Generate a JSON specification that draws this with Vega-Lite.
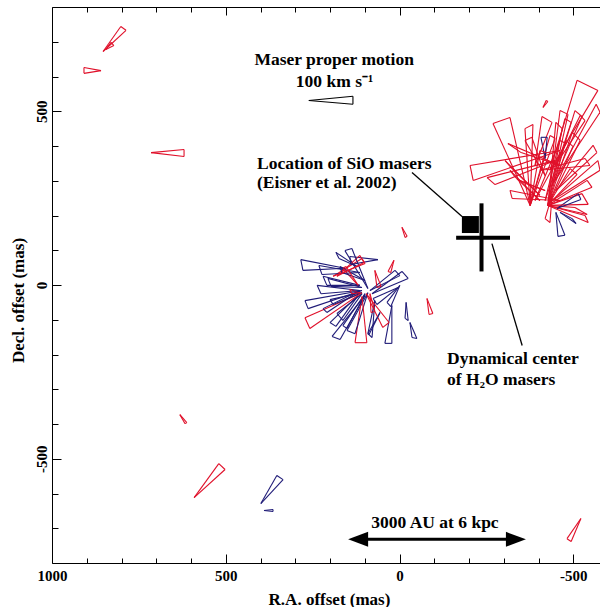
{
  "$schema": "https://vega.github.io/schema/vega-lite/v6.json",
  "autosize": {"type": "none"},
  "padding": {"left": 52, "top": 7, "right": -8, "bottom": 44},
  "width": 556,
  "height": 556,
  "background": "white",
  "config": {"view": {"stroke": null}, "axis": {"grid": false}},
  "resolve": {"axis": {"x": "independent", "y": "independent"}},
  "datasets": {
    "wedges": [
      {"v":"red-shifted","tx":-433,"ty":330,"ax":-511,"ay":589,"bx":-571,"by":560},
      {"v":"red-shifted","tx":-448,"ty":301,"ax":-566,"ay":520,"bx":-577,"by":497},
      {"v":"red-shifted","tx":-376,"ty":229,"ax":-269,"ay":465,"bx":-318,"by":482},
      {"v":"red-shifted","tx":-390,"ty":344,"ax":-410,"ay":485,"bx":-439,"by":468},
      {"v":"red-shifted","tx":-462,"ty":344,"ax":-312,"ay":407,"bx":-350,"by":381},
      {"v":"red-shifted","tx":-462,"ty":387,"ax":-203,"ay":344,"bx":-212,"by":301},
      {"v":"red-shifted","tx":-448,"ty":358,"ax":-252,"ay":309,"bx":-275,"by":289},
      {"v":"red-shifted","tx":-427,"ty":229,"ax":-497,"ay":439,"bx":-520,"by":416},
      {"v":"red-shifted","tx":-427,"ty":229,"ax":-491,"ay":335,"bx":-511,"by":318},
      {"v":"red-shifted","tx":-427,"ty":229,"ax":-540,"ay":301,"bx":-554,"by":281},
      {"v":"red-shifted","tx":-427,"ty":229,"ax":-525,"ay":263,"bx":-543,"by":232},
      {"v":"red-shifted","tx":-427,"ty":229,"ax":-505,"ay":223,"bx":-540,"by":203},
      {"v":"red-shifted","tx":-404,"ty":243,"ax":-318,"ay":330,"bx":-332,"by":312},
      {"v":"red-shifted","tx":-419,"ty":272,"ax":-338,"ay":304,"bx":-370,"by":289},
      {"v":"red-shifted","tx":-376,"ty":229,"ax":-361,"ay":450,"bx":-384,"by":462},
      {"v":"red-shifted","tx":-427,"ty":229,"ax":-450,"ay":468,"bx":-468,"by":450},
      {"v":"red-shifted","tx":-427,"ty":229,"ax":-479,"ay":416,"bx":-499,"by":399},
      {"v":"red-shifted","tx":-439,"ty":258,"ax":-419,"ay":191,"bx":-433,"by":180},
      {"v":"red-shifted","tx":-404,"ty":330,"ax":-534,"ay":364,"bx":-548,"by":344},
      {"v":"red-shifted","tx":-419,"ty":315,"ax":-361,"ay":416,"bx":-381,"by":425},
      {"v":"red-shifted","tx":-427,"ty":229,"ax":-534,"ay":200,"bx":-543,"by":180},
      {"v":"red-shifted","tx":-390,"ty":243,"ax":-462,"ay":416,"bx":-479,"by":407},
      {"v":"red-shifted","tx":-376,"ty":229,"ax":-433,"ay":430,"bx":-448,"by":422},
      {"v":"red-shifted","tx":-413,"ty":511,"ax":-422,"ay":531,"bx":-427,"by":528},
      {"v":"red-shifted","tx":-448,"ty":344,"ax":-520,"ay":488,"bx":-534,"by":473},
      {"v":"red-shifted","tx":-439,"ty":286,"ax":-505,"ay":502,"bx":-525,"by":485},
      {"v":"red-shifted","tx":-419,"ty":243,"ax":-476,"ay":479,"bx":-494,"by":468},
      {"v":"red-shifted","tx":-462,"ty":243,"ax":-318,"ay":272,"bx":-324,"by":249},
      {"v":"red-shifted","tx":-450,"ty":272,"ax":-557,"ay":402,"bx":-568,"by":381},
      {"v":"red-shifted","tx":-376,"ty":229,"ax":-404,"ay":387,"bx":-422,"by":381},
      {"v":"red-shifted","tx":-439,"ty":243,"ax":-571,"ay":358,"bx":-577,"by":330},
      {"v":"red-shifted","tx":-427,"ty":229,"ax":-462,"ay":502,"bx":-485,"by":491},
      {"v":"red-shifted","tx":-404,"ty":258,"ax":-304,"ay":358,"bx":-318,"by":341},
      {"v":"blue-shifted","tx":-419,"ty":364,"ax":-407,"ay":425,"bx":-425,"by":425},
      {"v":"blue-shifted","tx":-453,"ty":220,"ax":-514,"ay":263,"bx":-522,"by":246},
      {"v":"blue-shifted","tx":-462,"ty":209,"ax":-497,"ay":191,"bx":-508,"by":177},
      {"v":"blue-shifted","tx":-450,"ty":209,"ax":-456,"ay":140,"bx":-476,"by":143},
      {"v":"blue-shifted","tx":157,"ty":48,"ax":284,"ay":73,"bx":278,"by":42},
      {"v":"blue-shifted","tx":114,"ty":36,"ax":232,"ay":56,"bx":223,"by":30},
      {"v":"blue-shifted","tx":122,"ty":53,"ax":183,"ay":94,"bx":174,"by":76},
      {"v":"blue-shifted","tx":62,"ty":73,"ax":143,"ay":82,"bx":140,"by":59},
      {"v":"blue-shifted","tx":114,"ty":-1,"ax":220,"ay":25,"bx":209,"by":-1},
      {"v":"blue-shifted","tx":108,"ty":-7,"ax":206,"ay":19,"bx":197,"by":-4},
      {"v":"blue-shifted","tx":114,"ty":-16,"ax":237,"ay":-1,"bx":226,"by":-25},
      {"v":"blue-shifted","tx":99,"ty":-30,"ax":194,"ay":-148,"bx":171,"by":-157},
      {"v":"blue-shifted","tx":91,"ty":-22,"ax":151,"ay":-131,"bx":128,"by":-140},
      {"v":"blue-shifted","tx":71,"ty":-45,"ax":91,"ay":-140,"bx":79,"by":-151},
      {"v":"blue-shifted","tx":22,"ty":-59,"ax":42,"ay":-168,"bx":22,"by":-168},
      {"v":"blue-shifted","tx":-30,"ty":-108,"ax":-36,"ay":-151,"bx":-50,"by":-154},
      {"v":"blue-shifted","tx":-19,"ty":-50,"ax":-16,"ay":-96,"bx":-25,"by":-102},
      {"v":"blue-shifted","tx":114,"ty":-16,"ax":220,"ay":-68,"bx":209,"by":-79},
      {"v":"blue-shifted","tx":108,"ty":-25,"ax":180,"ay":-82,"bx":163,"by":-102},
      {"v":"blue-shifted","tx":99,"ty":-25,"ax":163,"ay":-117,"bx":151,"by":-125},
      {"v":"blue-shifted","tx":79,"ty":-25,"ax":-7,"ay":39,"bx":-25,"by":19},
      {"v":"blue-shifted","tx":4,"ty":-7,"ax":76,"ay":-39,"bx":65,"by":-56},
      {"v":"blue-shifted","tx":-1,"ty":-1,"ax":36,"ay":-50,"bx":25,"by":-62},
      {"v":"blue-shifted","tx":56,"ty":-79,"ax":91,"ay":-140,"bx":88,"by":-143},
      {"v":"blue-shifted","tx":108,"ty":-22,"ax":200,"ay":-42,"bx":191,"by":-56},
      {"v":"blue-shifted","tx":99,"ty":13,"ax":171,"ay":53,"bx":166,"by":36},
      {"v":"blue-shifted","tx":85,"ty":-16,"ax":13,"ay":42,"bx":-1,"by":27},
      {"v":"blue-shifted","tx":119,"ty":-30,"ax":200,"ay":-108,"bx":183,"by":-119},
      {"v":"blue-shifted","tx":108,"ty":-16,"ax":272,"ay":-45,"bx":263,"by":-68},
      {"v":"blue-shifted","tx":91,"ty":-10,"ax":157,"ay":99,"bx":137,"by":105},
      {"v":"red-shifted","tx":108,"ty":-22,"ax":272,"ay":-94,"bx":258,"by":-125},
      {"v":"red-shifted","tx":180,"ty":25,"ax":114,"ay":85,"bx":102,"by":65},
      {"v":"red-shifted","tx":108,"ty":-33,"ax":128,"ay":-166,"bx":94,"by":-166},
      {"v":"red-shifted","tx":114,"ty":-22,"ax":143,"ay":-13,"bx":137,"by":-25},
      {"v":"red-shifted","tx":16,"ty":71,"ax":33,"ay":39,"bx":25,"by":36},
      {"v":"red-shifted","tx":71,"ty":42,"ax":65,"ay":-7,"bx":53,"by":-4},
      {"v":"red-shifted","tx":-79,"ty":-39,"ax":-85,"ay":-85,"bx":-96,"by":-82},
      {"v":"red-shifted","tx":96,"ty":-25,"ax":48,"ay":-122,"bx":30,"by":-108},
      {"v":"red-shifted","tx":-7,"ty":166,"ax":-16,"ay":137,"bx":-22,"by":140},
      {"v":"red-shifted","tx":191,"ty":25,"ax":108,"ay":76,"bx":99,"by":62},
      {"v":"red-shifted","tx":85,"ty":-25,"ax":82,"ay":-79,"bx":71,"by":-76},
      {"v":"red-shifted","tx":119,"ty":-1,"ax":163,"ay":48,"bx":154,"by":53},
      {"v":"red-shifted","tx":853,"ty":672,"ax":802,"ay":744,"bx":787,"by":733},
      {"v":"red-shifted","tx":845,"ty":678,"ax":830,"ay":698,"bx":822,"by":689},
      {"v":"red-shifted","tx":859,"ty":617,"ax":908,"ay":626,"bx":908,"by":609},
      {"v":"red-shifted","tx":715,"ty":381,"ax":620,"ay":390,"bx":620,"by":370},
      {"v":"red-shifted","tx":632,"ty":-373,"ax":617,"ay":-399,"bx":612,"by":-396},
      {"v":"red-shifted","tx":591,"ty":-612,"ax":520,"ay":-514,"bx":502,"by":-531},
      {"v":"blue-shifted","tx":399,"ty":-629,"ax":353,"ay":-548,"bx":335,"by":-560},
      {"v":"blue-shifted","tx":390,"ty":-649,"ax":364,"ay":-646,"bx":364,"by":-652},
      {"v":"red-shifted","tx":-522,"ty":-672,"ax":-482,"ay":-730,"bx":-494,"by":-738},
      {"v":"reference","tx":261,"ty":531,"ax":134,"ay":543,"bx":134,"by":520}
    ]
  },
  "layer": [
    {
      "data": {"name": "wedges"},
      "mark": {"type": "rule", "strokeWidth": 1.1},
      "encoding": {
        "x": {"field": "tx", "type": "quantitative", "scale": {"domain": [1000, -600], "nice": false, "zero": false},
          "axis": {"orient": "bottom", "values": [1000, 500, 0, -500], "ticks": false, "domain": false, "labelPadding": 5, "labelBaseline": "top", "labelAlign": "center", "labelFlush": false, "labelOverlap": false, "labelBound": false, "labelExpr": "'' + datum.value", "labelFont": "Liberation Serif", "labelFontWeight": "bold", "labelFontSize": 15, "labelColor": "black",
            "title": "R.A. offset (mas)", "titleFont": "Liberation Serif", "titleFontWeight": "bold", "titleFontSize": 17, "titleColor": "black", "titleX": 277, "titleY": 41, "titleAlign": "center", "titleBaseline": "alphabetic", "titleAngle": 0}},
        "y": {"field": "ty", "type": "quantitative", "scale": {"domain": [-800, 800], "nice": false, "zero": false},
          "axis": {"orient": "left", "values": [500, 0, -500], "ticks": false, "domain": false, "labelPadding": 6, "labelAngle": -90, "labelAlign": "center", "labelBaseline": "alphabetic", "labelFlush": false, "labelOverlap": false, "labelBound": false, "labelExpr": "'' + datum.value", "labelFont": "Liberation Serif", "labelFontWeight": "bold", "labelFontSize": 15, "labelColor": "black",
            "title": "Decl. offset (mas)", "titleFont": "Liberation Serif", "titleFontWeight": "bold", "titleFontSize": 17, "titleColor": "black", "titleX": -29, "titleY": 293, "titleAlign": "center", "titleBaseline": "alphabetic", "titleAngle": -90}},
        "x2": {"field": "ax"},
        "y2": {"field": "ay"},
        "color": {"field": "v", "type": "nominal", "scale": {"domain": ["red-shifted", "blue-shifted", "reference"], "range": ["#e0102a", "#201c78", "#000000"]}, "legend": null}
      }
    },
    {
      "data": {"name": "wedges"},
      "mark": {"type": "rule", "strokeWidth": 1.1},
      "encoding": {
        "x": {"field": "tx", "type": "quantitative", "scale": {"domain": [1000, -600], "nice": false, "zero": false},
          "axis": {"orient": "bottom", "values": [1000, 500, 0, -500], "tickSize": -9, "tickColor": "black", "tickWidth": 1, "labels": false, "domain": true, "domainColor": "black", "domainWidth": 1, "title": null}},
        "y": {"field": "ty", "type": "quantitative", "scale": {"domain": [-800, 800], "nice": false, "zero": false},
          "axis": {"orient": "left", "values": [500, 0, -500], "tickSize": -9, "tickColor": "black", "tickWidth": 1, "labels": false, "domain": true, "domainColor": "black", "domainWidth": 1, "title": null}},
        "x2": {"field": "bx"},
        "y2": {"field": "by"},
        "color": {"field": "v", "type": "nominal", "scale": {"domain": ["red-shifted", "blue-shifted", "reference"], "range": ["#e0102a", "#201c78", "#000000"]}, "legend": null}
      }
    },
    {
      "data": {"name": "wedges"},
      "mark": {"type": "rule", "strokeWidth": 1.1},
      "encoding": {
        "x": {"field": "ax", "type": "quantitative", "scale": {"domain": [1000, -600], "nice": false, "zero": false},
          "axis": {"orient": "bottom", "values": [900, 800, 700, 600, 400, 300, 200, 100, -100, -200, -300, -400], "tickSize": -5, "tickColor": "black", "tickWidth": 1, "labels": false, "domain": false, "title": null}},
        "y": {"field": "ay", "type": "quantitative", "scale": {"domain": [-800, 800], "nice": false, "zero": false},
          "axis": {"orient": "left", "values": [700, 600, 400, 300, 200, 100, -100, -200, -300, -400, -600, -700], "tickSize": -6, "tickColor": "black", "tickWidth": 1, "labels": false, "domain": false, "title": null}},
        "x2": {"field": "bx"},
        "y2": {"field": "by"},
        "color": {"field": "v", "type": "nominal", "scale": {"domain": ["red-shifted", "blue-shifted", "reference"], "range": ["#e0102a", "#201c78", "#000000"]}, "legend": null}
      }
    },
    {
      "data": {"values": [
        {"x": -236, "y": 235, "x2": -236, "y2": 39},
        {"x": -163, "y": 136, "x2": -318, "y2": 136}
      ]},
      "mark": {"type": "rule", "strokeWidth": 4, "color": "black"},
      "encoding": {
        "x": {"field": "x", "type": "quantitative", "scale": {"domain": [1000, -600], "nice": false, "zero": false},
          "axis": {"orient": "top", "values": [1000, 500, 0, -500], "tickSize": -8, "tickColor": "black", "tickWidth": 1, "labels": false, "domain": true, "domainColor": "black", "domainWidth": 1, "title": null}},
        "y": {"field": "y", "type": "quantitative", "scale": {"domain": [-800, 800], "nice": false, "zero": false},
          "axis": {"orient": "right", "values": [500, 0, -500], "tickSize": -8, "tickColor": "black", "tickWidth": 1, "labels": false, "domain": false, "title": null}},
        "x2": {"field": "x2"},
        "y2": {"field": "y2"}
      }
    },
    {
      "data": {"values": [
        {"x": -36, "y": 324, "x2": -180, "y2": 197},
        {"x": -266, "y": 119, "x2": -353, "y2": -174}
      ]},
      "mark": {"type": "rule", "strokeWidth": 1.3, "color": "black"},
      "encoding": {
        "x": {"field": "x", "type": "quantitative", "scale": {"domain": [1000, -600], "nice": false, "zero": false},
          "axis": {"orient": "top", "values": [900, 800, 700, 600, 400, 300, 200, 100, -100, -200, -300, -400], "tickSize": -5, "tickColor": "black", "tickWidth": 1, "labels": false, "domain": false, "title": null}},
        "y": {"field": "y", "type": "quantitative", "scale": {"domain": [-800, 800], "nice": false, "zero": false},
          "axis": {"orient": "right", "values": [700, 600, 400, 300, 200, 100, -100, -200, -300, -400, -600, -700], "tickSize": -5, "tickColor": "black", "tickWidth": 1, "labels": false, "domain": false, "title": null}},
        "x2": {"field": "x2"},
        "y2": {"field": "y2"}
      }
    },
    {
      "data": {"values": [{"x": 119, "y": -732, "x2": -335}]},
      "mark": {"type": "rule", "strokeWidth": 3, "color": "black"},
      "encoding": {
        "x": {"field": "x", "type": "quantitative", "scale": {"domain": [1000, -600], "nice": false, "zero": false}, "axis": null},
        "y": {"field": "y", "type": "quantitative", "scale": {"domain": [-800, 800], "nice": false, "zero": false}, "axis": null},
        "x2": {"field": "x2"}
      }
    },
    {
      "data": {"values": [{"x": 119, "y": -732, "end": "east"}, {"x": -335, "y": -732, "end": "west"}]},
      "mark": {"type": "point", "filled": true, "color": "black", "opacity": 1, "size": 400, "strokeWidth": 0},
      "encoding": {
        "x": {"field": "x", "type": "quantitative", "scale": {"domain": [1000, -600], "nice": false, "zero": false}, "axis": null},
        "y": {"field": "y", "type": "quantitative", "scale": {"domain": [-800, 800], "nice": false, "zero": false}, "axis": null},
        "shape": {"field": "end", "type": "nominal", "scale": {"domain": ["east", "west"], "range": ["M-1,0L1,-0.75L1,0.75Z", "M1,0L-1,-0.75L-1,0.75Z"]}, "legend": null}
      }
    },
    {
      "data": {"values": [{"x": -204, "y": 174}]},
      "mark": {"type": "point", "shape": "square", "filled": true, "color": "black", "opacity": 1, "size": 289, "strokeWidth": 0},
      "encoding": {
        "x": {"field": "x", "type": "quantitative", "scale": {"domain": [1000, -600], "nice": false, "zero": false}, "axis": null},
        "y": {"field": "y", "type": "quantitative", "scale": {"domain": [-800, 800], "nice": false, "zero": false}, "axis": null}
      }
    },
    {
      "data": {"values": [
        {"x": 188, "y": 632, "text": "Maser proper motion"},
        {"x": 187, "y": 571, "text": "100 km s⁻¹"},
        {"x": -102, "y": -698, "text": "3000 AU at 6 kpc"}
      ]},
      "mark": {"type": "text", "align": "center", "baseline": "alphabetic", "font": "Liberation Serif", "fontWeight": "bold", "fontSize": 17.5, "color": "black"},
      "encoding": {
        "x": {"field": "x", "type": "quantitative", "scale": {"domain": [1000, -600], "nice": false, "zero": false}, "axis": null},
        "y": {"field": "y", "type": "quantitative", "scale": {"domain": [-800, 800], "nice": false, "zero": false}, "axis": null},
        "text": {"field": "text"}
      }
    },
    {
      "data": {"values": [
        {"x": 410, "y": 335, "text": "Location of SiO masers"},
        {"x": 410, "y": 278, "text": "(Eisner et al. 2002)"},
        {"x": -137, "y": -226, "text": "Dynamical center"},
        {"x": -137, "y": -289, "text": "of H₂O masers"}
      ]},
      "mark": {"type": "text", "align": "left", "baseline": "alphabetic", "font": "Liberation Serif", "fontWeight": "bold", "fontSize": 17.5, "color": "black"},
      "encoding": {
        "x": {"field": "x", "type": "quantitative", "scale": {"domain": [1000, -600], "nice": false, "zero": false}, "axis": null},
        "y": {"field": "y", "type": "quantitative", "scale": {"domain": [-800, 800], "nice": false, "zero": false}, "axis": null},
        "text": {"field": "text"}
      }
    }
  ]
}
